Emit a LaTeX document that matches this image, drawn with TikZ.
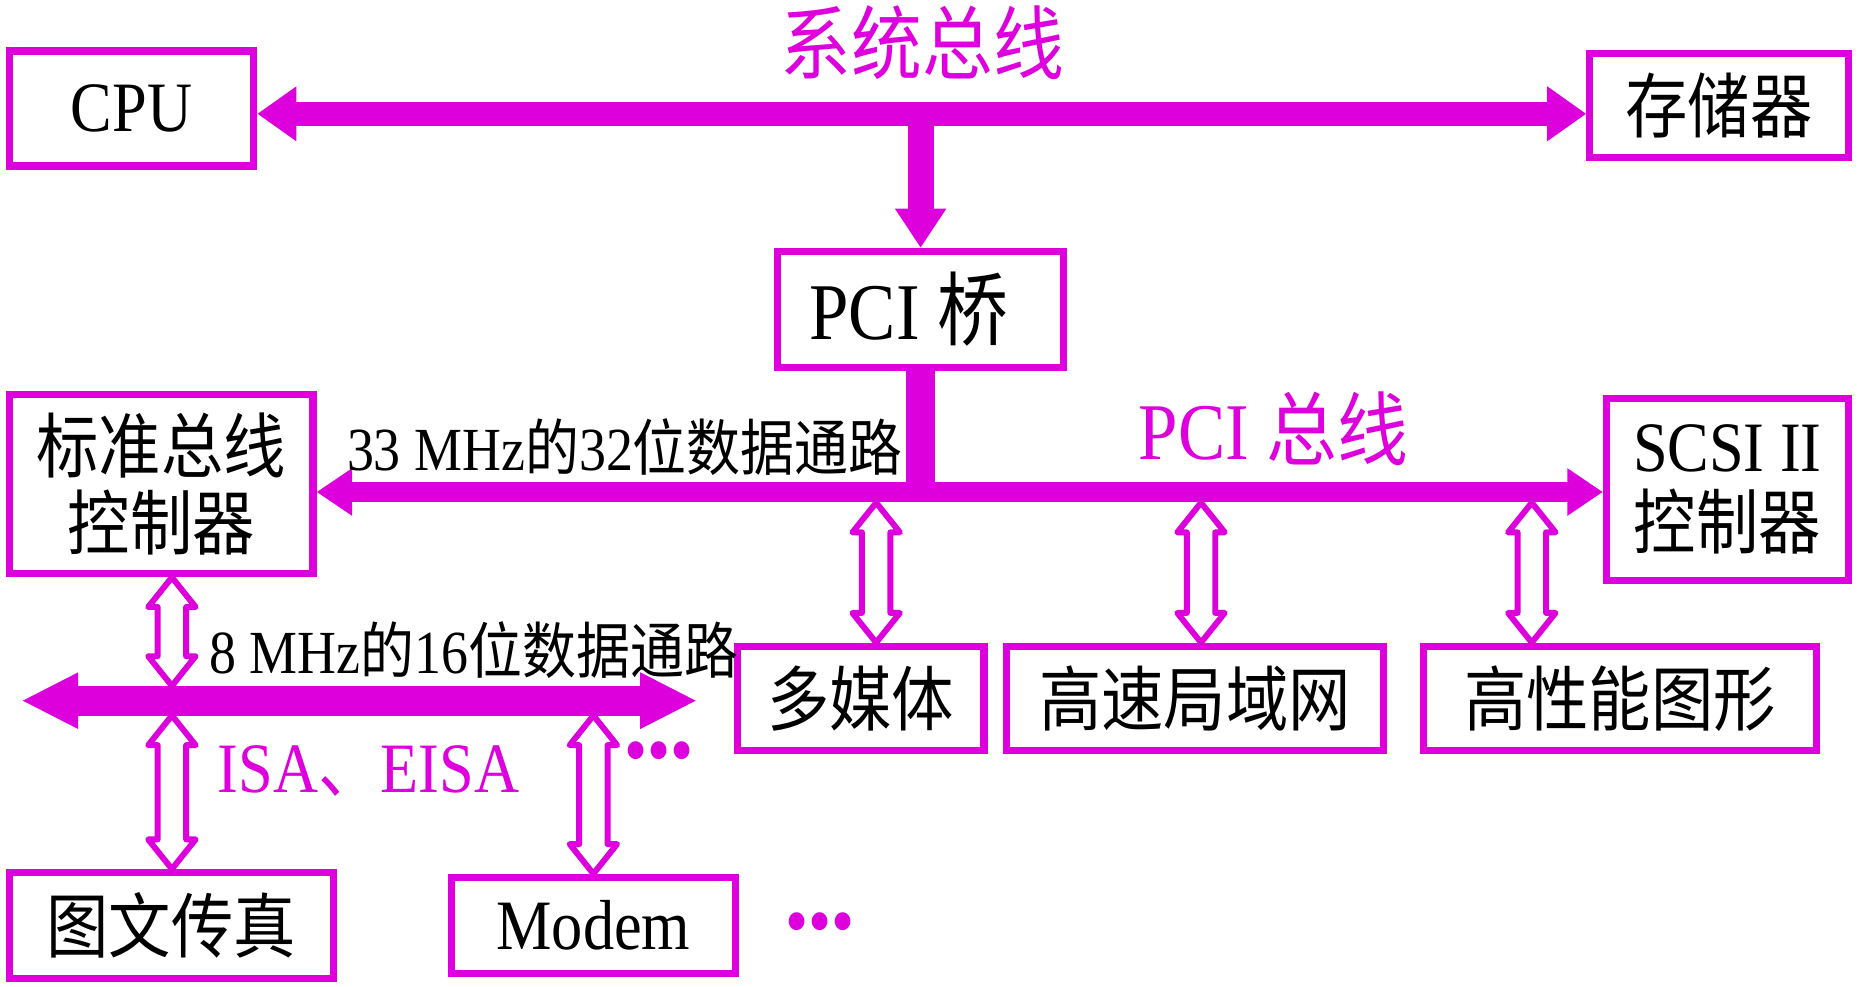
\documentclass[tikz,border=0pt]{standalone}
\usepackage{fontspec}
\setmainfont{Liberation Serif}[FakeStretch=0.88]
\newfontfamily\cjk{Noto Sans CJK SC}[FakeStretch=0.88]
\usetikzlibrary{arrows.meta,calc}
\definecolor{busmag}{RGB}{221,0,221}
\newcommand{\zh}[1]{{\cjk #1}}
% hollow double arrow, top tip #1, bottom tip #2
\newcommand{\hollowarrow}[2]{%
  \coordinate (ha) at (#1); \coordinate (hb) at (#2);
  \draw[hollow] (ha) -- ($(ha)+(0.2,-0.25)$) -- ($(ha)+(0.12,-0.25)$) -- ($(hb)+(0.12,0.25)$) -- ($(hb)+(0.2,0.25)$) -- (hb)
    -- ($(hb)+(-0.2,0.25)$) -- ($(hb)+(-0.12,0.25)$) -- ($(ha)+(-0.12,-0.25)$) -- ($(ha)+(-0.2,-0.25)$) -- cycle;}
\begin{document}
\begin{tikzpicture}[
    box/.style={draw=busmag, line width=0.6mm, inner sep=0pt, align=center, font=\fontsize{17}{18.5}\selectfont},
    bus/.style={busmag, line width=2mm},
    hollow/.style={busmag, line width=0.5mm, line join=round},
    buslabel/.style={text=busmag, inner sep=0pt, font=\fontsize{19.3}{22}\selectfont},
    pathlabel/.style={anchor=west, inner sep=0pt, font=\fontsize{14.7}{17}\selectfont}]
    \useasboundingbox (0,0) rectangle (15.68,-8.32);

    \node[box, minimum width=2.06cm, minimum height=0.97cm] (cpu) at (1.11,-0.915) {CPU};
    \node[box, minimum width=2.18cm, minimum height=0.88cm] (mem) at (14.50,-0.89) {\zh{存储器}};
    \node[box, minimum width=2.41cm, minimum height=0.98cm, font=\fontsize{19.3}{22}\selectfont] (bridge) at (7.765,-2.61) {\hspace*{-0.2cm}PCI \zh{桥}};
    \node[box, minimum width=2.56cm, minimum height=1.51cm] (std) at (1.36,-4.085) {\zh{标准总线}\\\zh{控制器}};
    \node[box, minimum width=2.04cm, minimum height=1.54cm] (scsi) at (14.57,-4.13) {SCSI II\\\zh{控制器}};
    \node[box, minimum width=2.08cm, minimum height=0.88cm] (mm) at (7.26,-5.89) {\zh{多媒体}};
    \node[box, minimum width=3.18cm, minimum height=0.88cm] (lan) at (10.08,-5.89) {\zh{高速局域网}};
    \node[box, minimum width=3.31cm, minimum height=0.88cm] (gfx) at (13.665,-5.89) {\zh{高性能图形}};
    \node[box, minimum width=2.73cm, minimum height=0.89cm] (fax) at (1.445,-7.805) {\zh{图文传真}};
    \node[box, minimum width=2.39cm, minimum height=0.81cm] (modem) at (5.005,-7.805) {Modem};

    % system bus
    \coordinate (sys) at (bridge.north |- 0,-0.96);
    \draw[bus, {Triangle[width=4.4mm,length=3.3mm]}-{Triangle[width=4.4mm,length=3.3mm]}] (cpu.east |- sys) -- (mem.west |- sys);
    \draw[bus, line width=2.2mm, -{Triangle[width=4.1mm,length=3.3mm]}] (sys) -- (bridge.north);
    \node[buslabel] (syslabel) at (7.78,-0.36) {\zh{系统总线}};

    % PCI bus
    \coordinate (pci) at (bridge.south |- 0,-4.15);
    \draw[bus, line width=2.5mm] (bridge.south) -- (pci);
    \draw[bus, line width=1.7mm, {Triangle[width=3.8mm,length=3mm]}-{Triangle[width=3.8mm,length=3mm]}] (std.east |- pci) -- (scsi.west |- pci);
    \node[buslabel] (pcilabel) at (10.74,-3.62) {PCI \zh{总线}};
    \node[pathlabel] (pcipath) at (2.92,-3.77) {33 MHz\zh{的}32\zh{位数据通路}};
    \foreach \x/\n in {7.39/mm, 10.13/lan, 12.92/gfx} {
        \coordinate (t) at (\x,-4.24);
        \coordinate (b) at (t |- \n.north);
        \hollowarrow{t}{b}
    }

    % ISA bus
    \coordinate (isaL) at (0.18,-5.91);
    \coordinate (isaR) at (5.88,-5.91);
    \coordinate (isatop) at (1.45,-5.785);
    \coordinate (isabot) at (1.45,-6.035);
    \draw[bus, line width=2.5mm, {Triangle[width=4.4mm,length=4.8mm]}-{Triangle[width=4.4mm,length=4.8mm]}] (isaL) -- (isaR);
    \hollowarrow{std.south -| isatop}{isatop}
    \hollowarrow{isabot}{fax.north -| isabot}
    \hollowarrow{isabot -| modem.north}{modem.north}
    \node[pathlabel] (isapath) at (1.76,-5.48) {8 MHz\zh{的}16\zh{位数据通路}};
    \node[buslabel, anchor=west, font=\fontsize{17}{20}\selectfont] (isalabel) at (1.83,-6.50) {ISA\zh{、}EISA};
    \node[buslabel, font=\fontsize{18}{20}\selectfont] (dots1) at (5.56,-6.40) {•••};
    \node[buslabel, font=\fontsize{18}{20}\selectfont] (dots2) at (6.92,-7.84) {•••};
\end{tikzpicture}
\end{document}
